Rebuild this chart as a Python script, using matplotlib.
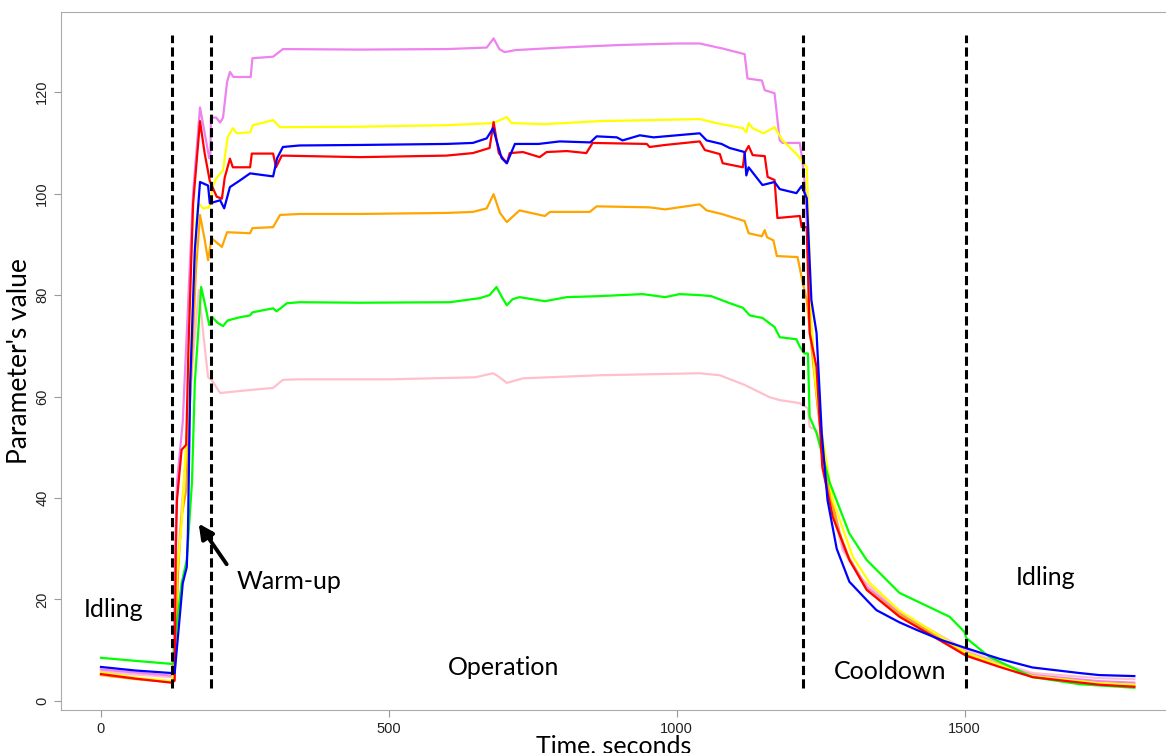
import matplotlib
matplotlib.use("Agg")
import matplotlib.pyplot as plt

# time (s) / value pairs, one pair of lists per series
t_green = [0, 60, 123, 125, 128, 140, 149, 158, 163, 174, 181, 188, 193, 203, 212, 220, 240, 259, 263,
           299, 305, 323, 345, 450, 606, 658, 675, 687, 697, 705, 715, 727, 771, 809, 866, 941, 980,
           1005, 1040, 1060, 1090, 1115, 1127, 1149, 1170, 1179, 1208, 1214, 1222, 1228, 1231, 1243,
           1266, 1300, 1330, 1387, 1474, 1500, 1503, 1543, 1618, 1700, 1795]
v_green = [8.5, 7.9, 7.3, 7.5, 11.4, 23.2, 27.8, 43, 62.7, 81.6, 78, 74.1, 75.7, 74.5, 73.9, 75, 75.6, 76,
           76.6, 77.4, 76.8, 78.4, 78.6, 78.5, 78.6, 79.4, 80, 81.6, 79.5, 78, 79.2, 79.6, 78.8, 79.6,
           79.8, 80.2, 79.6, 80.2, 80, 79.8, 78.5, 77.5, 76, 75.5, 73.7, 71.7, 71.3, 69.8, 68.5, 68.5,
           56, 52.8, 43, 33, 27.8, 21.3, 16.6, 13.6, 12.4, 8.7, 4.7, 3.3, 2.6]

t_pink = [0, 60, 123, 126, 130, 140, 150, 160, 170, 178, 186, 192, 207, 259, 299, 316, 345, 500, 650,
          681, 690, 705, 733, 866, 1040, 1075, 1118, 1161, 1179, 1214, 1228, 1231, 1243, 1252, 1266,
          1288, 1318, 1387, 1503, 1561, 1618, 1734, 1795]
v_pink = [5.8, 5.2, 4.7, 5, 22, 38, 52, 68, 81, 72, 63.8, 63.3, 60.7, 61.3, 61.7, 63.3, 63.4, 63.4, 63.8,
          64.6, 64, 62.7, 63.6, 64.2, 64.6, 64.2, 62.3, 59.9, 59.3, 58.7, 57.7, 54, 53.4, 49.5, 39.6,
          29.8, 24.4, 17.5, 10, 7.5, 5.5, 4.5, 4.3]

t_violet = [0, 60, 123, 126, 129, 132, 142, 150, 160, 172, 180, 188, 190, 191, 200, 207, 212, 219, 224,
            230, 260, 263, 299, 316, 450, 600, 670, 682, 692, 701, 720, 800, 900, 1000, 1040, 1080,
            1118, 1123, 1148, 1153, 1170, 1179, 1184, 1214, 1219, 1224, 1232, 1245, 1260, 1290, 1330,
            1387, 1503, 1561, 1618, 1734, 1795]
v_violet = [6.2, 5.6, 5.0, 8, 30, 43, 55, 75, 100, 117, 112, 107, 107, 115, 115, 114, 115, 122, 124,
            123, 123, 126.7, 127, 128.5, 128.4, 128.5, 128.8, 130.6, 128.5, 127.9, 128.3, 128.8, 129.3,
            129.6, 129.6, 128.6, 127.5, 122.7, 122.3, 120.4, 119.8, 110.5, 110, 110, 106, 100, 75, 58,
            44, 30, 22.5, 17.3, 9.6, 7.2, 5.1, 3.9, 3.6]

t_orange = [0, 60, 123, 128, 134, 140, 148, 155, 165, 172, 180, 186, 192, 210, 219, 259, 263, 299, 311,
            345, 450, 600, 646, 670, 682, 693, 705, 727, 771, 780, 849, 861, 953, 980, 1040, 1052, 1078,
            1118, 1125, 1148, 1153, 1157, 1168, 1174, 1210, 1219, 1226, 1234, 1245, 1260, 1280, 1300,
            1330, 1387, 1503, 1561, 1618, 1734, 1795]
v_orange = [5.1, 4.3, 3.7, 5, 25.8, 36.3, 41.6, 60, 85, 95.8, 91, 86.9, 91.2, 89.5, 92.4, 92.2, 93.2,
            93.4, 95.8, 96, 96, 96.2, 96.4, 97.1, 99.9, 96.2, 94.4, 96.7, 95.6, 96.4, 96.4, 97.5, 97.3,
            96.9, 97.9, 96.7, 96, 94.6, 92.2, 91.6, 92.8, 91.4, 90.8, 87.7, 87.5, 82.4, 79, 70, 58, 44,
            34, 28, 22, 17, 9.2, 6.9, 4.8, 3.3, 3.0]

t_yellow = [0, 60, 123, 127, 132, 140, 150, 160, 166, 170, 177, 188, 194, 200, 212, 220, 229, 236, 259,
            264, 299, 311, 450, 600, 681, 705, 713, 771, 866, 1040, 1069, 1115, 1121, 1125, 1132, 1151,
            1170, 1184, 1210, 1226, 1228, 1234, 1240, 1252, 1271, 1306, 1335, 1387, 1503, 1561, 1618,
            1734, 1795]
v_yellow = [5.6, 4.6, 3.9, 6, 25, 35, 55, 80, 95, 98.1, 97.1, 97.3, 101.3, 103, 104.6, 111.1, 112.9,
            111.9, 112.1, 113.5, 114.5, 113.1, 113.2, 113.5, 113.9, 115.1, 113.9, 113.7, 114.3, 114.7,
            113.9, 112.9, 112.1, 113.9, 112.9, 111.9, 113.1, 110.5, 107.6, 105.2, 99, 75, 64, 52.8,
            39.6, 28.4, 23.3, 17.8, 9.5, 7.1, 4.9, 3.5, 3.2]

t_red = [0, 60, 123, 128, 130, 132, 140, 148, 152, 160, 172, 180, 189, 201, 210, 215, 224, 229, 259,
         262, 299, 304, 314, 450, 600, 646, 675, 682, 691, 705, 710, 733, 762, 774, 809, 843, 854, 948,
         953, 980, 1040, 1049, 1075, 1080, 1115, 1118, 1125, 1132, 1153, 1158, 1170, 1175, 1214, 1217,
         1226, 1231, 1243, 1253, 1271, 1300, 1330, 1387, 1503, 1561, 1618, 1734, 1795]
v_red = [5.3, 4.4, 3.6, 4, 30, 39.6, 49.5, 50.5, 70, 98, 114.3, 108, 102.5, 99.4, 99, 103.2, 106.9,
         105.2, 105.2, 107.9, 107.9, 105.2, 107.5, 107.2, 107.5, 108, 109, 114.1, 108, 106, 108, 108.2,
         107.2, 108.2, 108.4, 108, 110, 109.8, 109.2, 109.6, 110.3, 108.6, 107.8, 106, 105.2, 108,
         109.4, 107.6, 107.4, 103.3, 102.7, 95.2, 95.6, 93.4, 93.4, 72.5, 65.8, 46.1, 36.3, 27.8, 21.9,
         16.6, 8.9, 6.7, 4.7, 3.2, 2.8]

t_blue = [0, 60, 123, 128, 142, 149, 151, 155, 163, 172, 186, 189, 207, 214, 224, 240, 259, 299, 306,
          316, 345, 450, 600, 646, 670, 681, 687, 696, 705, 719, 760, 797, 850, 861, 896, 906, 936, 960,
          1040, 1052, 1078, 1092, 1118, 1121, 1125, 1149, 1170, 1179, 1208, 1217, 1226, 1234, 1243,
          1252, 1262, 1278, 1300, 1330, 1347, 1387, 1417, 1460, 1503, 1561, 1618, 1700, 1734, 1795]
v_blue = [6.7, 6.0, 5.5, 5.5, 23.2, 26.4, 33, 62.7, 88.9, 102.3, 101.6, 98.1, 98.7, 97.1, 101.3, 102.5,
          104, 103.4, 107, 109.2, 109.5, 109.6, 109.8, 110, 110.9, 112.9, 110.5, 107, 106, 109.8, 109.8,
          110.3, 110.1, 111.3, 111.1, 110.5, 111.5, 111.1, 111.9, 110.5, 109.8, 109, 108.2, 103.6,
          105.2, 101.7, 102.3, 100.9, 100.1, 101.5, 99.1, 79, 72.5, 52.8, 39.6, 30, 23.5, 19.9, 17.9,
          15.5, 14, 12, 10.4, 8.3, 6.6, 5.5, 5.1, 4.9]

phase_bounds = [123, 191, 1219, 1503]
x_ticks = [0, 500, 1000, 1500]
y_ticks = [0, 20, 40, 60, 80, 100, 120]


fig = plt.figure(figsize=(11.66, 7.53), dpi=100)
ax = fig.add_axes([0.0523, 0.057, 0.9477, 0.927])

series = [(t_pink, v_pink, "pink"), (t_violet, v_violet, "violet"),
          (t_orange, v_orange, "orange"), (t_yellow, v_yellow, "yellow"),
          (t_green, v_green, "#00ff00"), (t_red, v_red, "red"), (t_blue, v_blue, "blue")]
for t, v, c in series:
    ax.plot(t, v, color=c, lw=1.6, solid_joinstyle="round")

for b in phase_bounds:
    ax.plot([b, b], [2.5, 131.3], color="black", lw=2.2, linestyle=(0, (3, 1.4)))

ax.set_xlim(-69.5, 1850)
ax.set_ylim(-1.8, 135.8)

txt_font = ["Lato", "DejaVu Sans"]
ax.text(21, 18, "Idling", fontsize=18, family=txt_font, ha="center", va="center")
ax.text(327, 23.6, "Warm-up", fontsize=18, family=txt_font, ha="center", va="center")
ax.text(699, 6.6, "Operation", fontsize=18, family=txt_font, ha="center", va="center")
ax.text(1370, 5.9, "Cooldown", fontsize=18, family=txt_font, ha="center", va="center")
ax.text(1640, 24.4, "Idling", fontsize=18, family=txt_font, ha="center", va="center")
ax.annotate("", xy=(167, 35.4), xytext=(221, 26.5),
            arrowprops=dict(arrowstyle="-|>", color="black", lw=2.8, mutation_scale=22))

ax.set_xticks(x_ticks)
ax.set_yticks(y_ticks)
ax.set_yticklabels([str(y) for y in y_ticks], rotation=90, va="center")
ax.tick_params(colors="#999999", labelcolor="#222222", labelsize=10.5, length=5)
for lab in ax.get_xticklabels() + ax.get_yticklabels():
    lab.set_family("Liberation Sans")
for side in ["top", "left", "bottom"]:
    ax.spines[side].set_color("#aaaaaa")
ax.spines["right"].set_visible(False)

ax.set_xlabel("Time, seconds", fontsize=18, family=txt_font, labelpad=-1)
ax.set_ylabel("Parameter's value", fontsize=19, family=txt_font, labelpad=2)

fig.savefig("out.png", dpi=100)
